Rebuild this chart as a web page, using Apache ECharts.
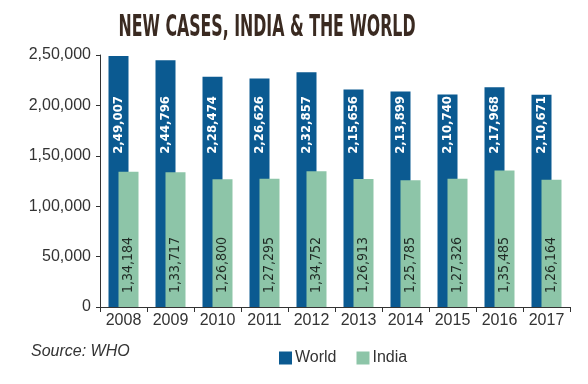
<!DOCTYPE html>
<html>
<head>
<meta charset="utf-8">
<script src="https://cdn.jsdelivr.net/npm/echarts@6/dist/echarts.min.js"></script>
<style>html,body{margin:0;padding:0;background:#fff}#c{width:588px;height:384px}</style>
</head>
<body>
<div id="c"></div>
<script>
var years = ['2008','2009','2010','2011','2012','2013','2014','2015','2016','2017'];
var world = [249007, 244796, 228474, 226626, 232857, 215656, 213899, 210740, 217968, 210671];
var india = [134184, 133717, 126800, 127295, 134752, 126913, 125785, 127326, 135485, 126164];
var yTicks = [0, 50000, 100000, 150000, 200000, 250000];
var titleText = 'NEW CASES, INDIA & THE WORLD';
var sourceText = 'Source: WHO';

function inr(n) {
  var s = String(Math.round(n));
  if (s.length <= 3) return s;
  var last3 = s.slice(-3), rest = s.slice(0, -3);
  rest = rest.replace(/\B(?=(\d{2})+(?!\d))/g, ',');
  return rest + ',' + last3;
}

var titleFont = 'bold 31px "DejaVu Sans Condensed", "DejaVu Sans", sans-serif';
var cv = document.createElement('canvas').getContext('2d');
cv.font = titleFont;
var tw = cv.measureText(titleText).width;
var sx = 297 / tw;

var chart = echarts.init(document.getElementById('c'), null, {renderer: 'canvas'});
var gridTop = 55, gridBottom = 77;
var plotH = 384 - gridTop - gridBottom;
var labelLevel = 152000;

chart.setOption({
  animation: false,
  backgroundColor: '#fff',
  grid: {left: 100, right: 18, top: gridTop, bottom: gridBottom},
  legend: {
    data: ['World', 'India'],
    left: 274, top: 345,
    icon: 'rect', itemWidth: 13, itemHeight: 13, itemGap: 20,
    textStyle: {fontSize: 16, color: '#333', fontFamily: '"Liberation Sans", Arial, sans-serif', padding: [0,0,0,-2]}
  },
  xAxis: {
    type: 'category', data: years,
    axisLine: {lineStyle: {color: '#333', width: 1}},
    axisTick: {show: true, length: 5, lineStyle: {color: '#333'}},
    axisLabel: {fontSize: 16, color: '#333', margin: 6, fontFamily: '"Liberation Sans", Arial, sans-serif'}
  },
  yAxis: {
    type: 'value', min: 0, max: 250000, interval: 50000,
    splitLine: {show: false},
    axisLine: {show: true, lineStyle: {color: '#333', width: 1}},
    axisTick: {show: true, length: 4, lineStyle: {color: '#333'}},
    axisLabel: {fontSize: 16, color: '#333', margin: 9, fontFamily: '"Liberation Sans", Arial, sans-serif',
      formatter: function (v) { return yTicks.indexOf(v) >= 0 ? inr(v) : ''; }}
  },
  series: [
    {
      name: 'World', type: 'bar', data: world, barWidth: 20, barGap: '-50%',
      itemStyle: {color: '#0b5a91'},
      label: {
        show: true, position: 'insideBottom', rotate: 90, align: 'left', verticalAlign: 'middle',
        distance: labelLevel / 250000 * plotH,
        color: '#fff', fontSize: 13, fontWeight: 'bold',
        fontFamily: '"DejaVu Sans Condensed", "DejaVu Sans", sans-serif',
        formatter: function (p) { return inr(p.value); }
      }
    },
    {
      name: 'India', type: 'bar', data: india, barWidth: 20,
      itemStyle: {color: '#8dc5a8'},
      label: {
        show: true, position: 'insideBottom', rotate: 90, align: 'left', verticalAlign: 'middle',
        distance: 14,
        color: '#1f2a24', fontSize: 14,
        fontFamily: '"DejaVu Sans Condensed", "DejaVu Sans", sans-serif',
        formatter: function (p) { return inr(p.value); }
      }
    }
  ],
  graphic: [
    {
      type: 'text', x: 267, y: 12, scaleX: sx, originX: 0,
      style: {text: titleText, font: titleFont, fill: '#3a2a21', align: 'center', verticalAlign: 'top'}
    },
    {
      type: 'text', left: 31, top: 344,
      style: {text: sourceText, font: 'italic 16px "Liberation Sans", Arial, sans-serif', fill: '#333'}
    }
  ]
});
</script>
</body>
</html>
